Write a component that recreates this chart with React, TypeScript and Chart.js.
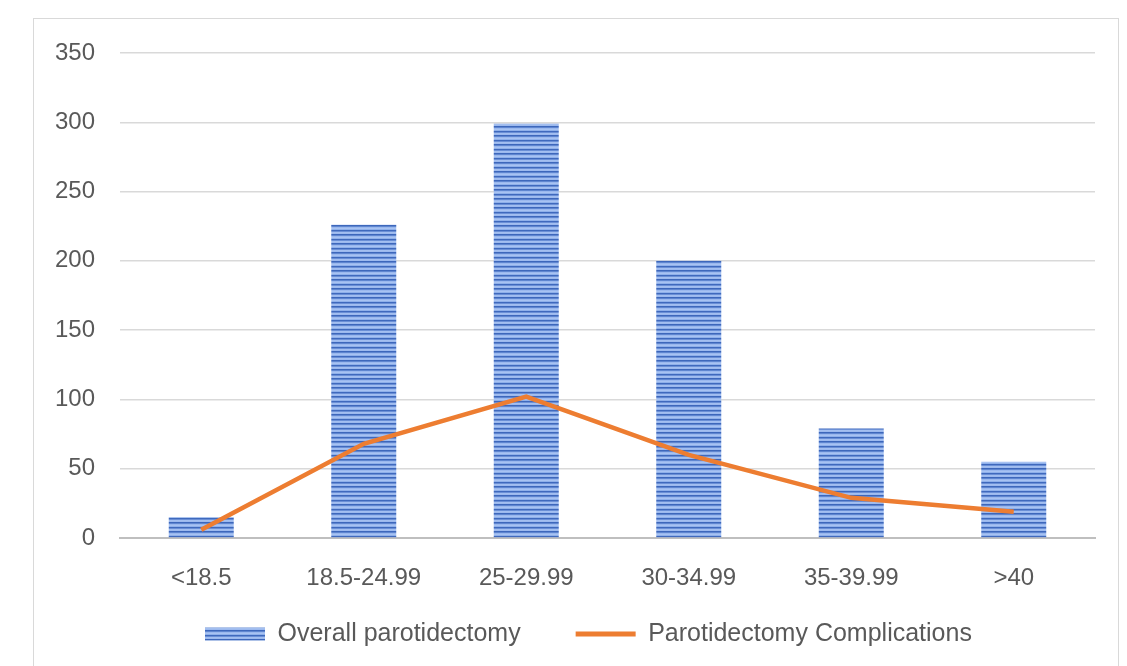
import React, { useEffect, useRef } from "react";
import { Chart, registerables } from "chart.js";

Chart.register(...registerables);

const categories = ["<18.5", "18.5-24.99", "25-29.99", "30-34.99", "35-39.99", ">40"];
const overallValues = [15, 226, 299, 200, 79, 55];
const complicationValues = [6, 68, 102, 60, 29, 19];
const yTicks = [0, 50, 100, 150, 200, 250, 300, 350];

const FONT = '"Liberation Sans", Arial, sans-serif';
const TEXT = "#595959";
const LEGEND_PAD = 55;

function makeStripePattern(ctx: CanvasRenderingContext2D): CanvasPattern | string {
  const c = document.createElement("canvas");
  c.width = 4;
  c.height = 9;
  const p = c.getContext("2d");
  if (!p) return "#4472c4";
  const rows = ["#3d67bb", "#5f86d0", "#9ab8ee", "#a8c3f2", "#8fb0ea", "#3f69bd", "#6a8fd6", "#a3bff0", "#9cb9ee"];
  rows.forEach((col, i) => {
    p.fillStyle = col;
    p.fillRect(0, i, 4, 1);
  });
  return ctx.createPattern(c, "repeat") || "#4472c4";
}

const legendPlacer = {
  id: "legendPlacer",
  afterLayout(chart: any) {
    const lg = chart.legend;
    if (!lg || !lg.lineWidths) return;
    const targetTop = 634 - LEGEND_PAD - 12.5;
    lg.top = targetTop;
    lg.height = 666 - targetTop;
    lg.bottom = 666;
    const start = (lg.left + LEGEND_PAD + lg.right - lg.lineWidths[0]) / 2;
    const dx = 205 - start;
    lg.left += dx;
    lg.right += dx;
  },
};

export default function App() {
  const canvasRef = useRef<HTMLCanvasElement | null>(null);

  useEffect(() => {
    const canvas = canvasRef.current;
    if (!canvas) return;
    const ctx = canvas.getContext("2d");
    if (!ctx) return;
    const pattern = makeStripePattern(ctx);

    const chart = new Chart(ctx, {
      type: "bar",
      data: {
        labels: categories,
        datasets: [
          {
            type: "bar",
            label: "Overall parotidectomy",
            data: overallValues,
            backgroundColor: pattern as any,
            borderWidth: 0,
            categoryPercentage: 1,
            barPercentage: 0.4,
            order: 1,
          },
          {
            type: "line",
            label: "Parotidectomy Complications",
            data: complicationValues,
            borderColor: "#ed7d31",
            backgroundColor: "#ed7d31",
            borderWidth: 4.5,
            pointRadius: 0,
            pointStyle: "line",
            tension: 0,
            order: 0,
          },
        ],
      } as any,
      plugins: [legendPlacer],
      options: {
        animation: false,
        responsive: false,
        maintainAspectRatio: false,
        layout: { padding: { left: 55, right: 32, top: 53, bottom: 0 } },
        scales: {
          x: {
            grid: { display: false },
            border: { display: true, color: "#bfbfbf", width: 2 },
            ticks: {
              color: TEXT,
              font: { family: FONT, size: 24 },
              padding: 18,
              maxRotation: 0,
              autoSkip: false,
            },
            afterFit: (scale: any) => {
              scale.height = 60;
            },
          },
          y: {
            min: 0,
            max: 350,
            afterBuildTicks: (scale: any) => {
              scale.ticks = yTicks.map((v) => ({ value: v }));
            },
            grid: {
              color: "#d9d9d9",
              lineWidth: 1.5,
              drawTicks: false,
            },
            border: { display: false },
            ticks: {
              color: TEXT,
              font: { family: FONT, size: 24 },
              padding: 25,
            },
            afterFit: (scale: any) => {
              scale.width = 65;
            },
          },
        },
        plugins: {
          tooltip: { enabled: false },
          legend: {
            position: "bottom",
            maxHeight: 68,
            labels: {
              color: TEXT,
              font: { family: FONT, size: 25 },
              usePointStyle: true,
              pointStyleWidth: 60,
              boxHeight: 13,
              padding: LEGEND_PAD,
              generateLabels: (c: any) => {
                const items = (Chart.defaults.plugins.legend.labels as any).generateLabels(c);
                items.forEach((it: any) => {
                  const ds = c.data.datasets[it.datasetIndex];
                  if (ds.type === "line") {
                    it.pointStyle = "line";
                    it.strokeStyle = ds.borderColor;
                    it.lineWidth = 5;
                  } else {
                    it.pointStyle = "rect";
                    it.lineWidth = 0;
                  }
                });
                items.sort((a: any, b: any) => a.datasetIndex - b.datasetIndex);
                return items;
              },
            },
          },
        },
      } as any,
    });

    return () => chart.destroy();
  }, []);

  return (
    <div style={{ position: "absolute", left: 0, top: 0, width: 1127, height: 666, background: "#fff", overflow: "hidden" }}>
      <div
        style={{
          position: "absolute",
          left: 33,
          top: 18,
          width: 1086,
          height: 700,
          border: "1.5px solid #d9d9d9",
          boxSizing: "border-box",
        }}
      />
      <canvas ref={canvasRef} width={1127} height={666} style={{ position: "absolute", left: 0, top: 0 }} />
    </div>
  );
}
